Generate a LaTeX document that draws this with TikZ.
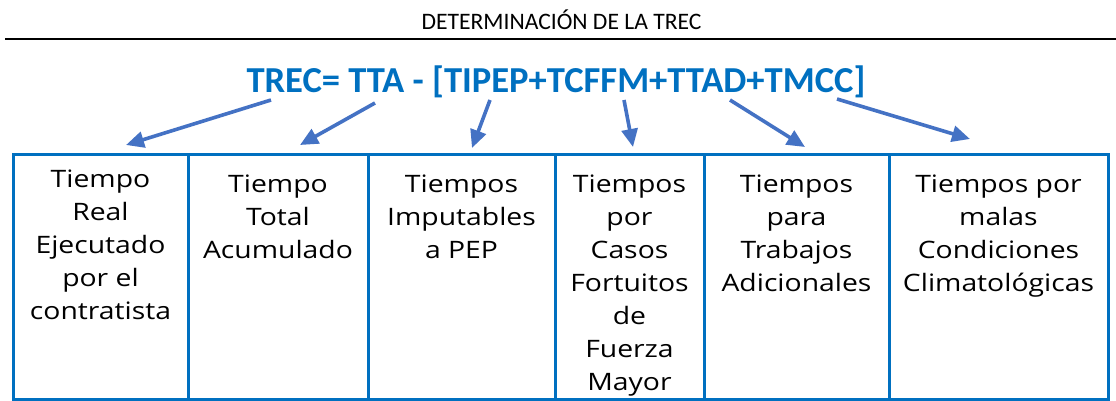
\documentclass[tikz,border=0pt]{standalone}
\usepackage{fontspec}
\usepackage{xcolor}
\usetikzlibrary{arrows.meta,positioning}
\setmainfont{Open Sans}
\newfontfamily\boxfont[FakeStretch=1.18]{Open Sans}
\newfontfamily\calibri{Carlito}
\definecolor{boxblue}{RGB}{0,112,192}
\definecolor{arrowblue}{RGB}{68,114,196}

\begin{document}
\begin{tikzpicture}[x=0.5pt,y=-0.5pt,
    column/.style={draw=boxblue, line width=1.5pt, anchor=north west, minimum height=122.5pt, inner sep=0pt, outer sep=0pt},
    coltext/.style={align=center, inner sep=0pt, font=\boxfont\fontsize{12}{16.5}\selectfont},
    pointer/.style={draw=arrowblue, line width=1.8pt, -{Triangle[length=9pt,width=8pt]}}]
    \useasboundingbox (0,0) rectangle (1116,401);

    % Header
    \node[font=\calibri\fontsize{11.8}{13}\selectfont, anchor=base] (title) at (561.5,30) {DETERMINACIÓN DE LA TREC};
    \coordinate (ruleL) at (5,39);
    \coordinate (ruleR) at (1116,39);
    \draw[line width=1.25pt] (ruleL) -- (ruleR);

    % Formula
    \node[font=\calibri\bfseries\fontsize{18.3}{20}\selectfont, text=boxblue, anchor=base] (formula) at (556,93) {TREC= TTA - [TIPEP+TCFFM+TTAD+TMCC]};

    % Columns
    \node[column, minimum width=87.5pt] (col1) at (13,155) {};
    \node[column, minimum width=90pt, right=0pt of col1] (col2) {};
    \node[column, minimum width=93.5pt, right=0pt of col2] (col3) {};
    \node[column, minimum width=74.5pt, right=0pt of col3] (col4) {};
    \node[column, minimum width=92.5pt, right=0pt of col4] (col5) {};
    \node[column, minimum width=109.5pt, right=0pt of col5] (col6) {};

    \node[coltext, below=7.3pt of col1.north] (txt1) {Tiempo\\Real\\Ejecutado\\por el\\contratista};
    \node[coltext, below=9.8pt of col2.north] (txt2) {Tiempo\\Total\\Acumulado};
    \node[coltext, below=9.8pt of col3.north] (txt3) {Tiempos\\Imputables\\a PEP};
    \node[coltext, below=9.8pt of col4.north] (txt4) {Tiempos\\por\\Casos\\Fortuitos\\de\\Fuerza\\Mayor};
    \node[coltext, below=9.8pt of col5.north] (txt5) {Tiempos\\para\\Trabajos\\Adicionales};
    \node[coltext, below=9.8pt of col6.north] (txt6) {Tiempos por\\malas\\Condiciones\\Climatológicas};

    % Arrows
    \coordinate (s1) at (271,100);
    \coordinate (s2) at (375,103);
    \coordinate (s3) at (490,100);
    \coordinate (s4) at (624,100);
    \coordinate (s5) at (730,100);
    \coordinate (s6) at (837,99);
    \coordinate (t1) at (126,145);
    \coordinate (t2) at (300,145);
    \coordinate (t3) at (472,148);
    \coordinate (t4) at (633,147);
    \coordinate (t5) at (805,147);
    \coordinate (t6) at (970,139);
    \foreach \i in {1,...,6}
        \draw[pointer] (s\i) -- (t\i);
\end{tikzpicture}
\end{document}
